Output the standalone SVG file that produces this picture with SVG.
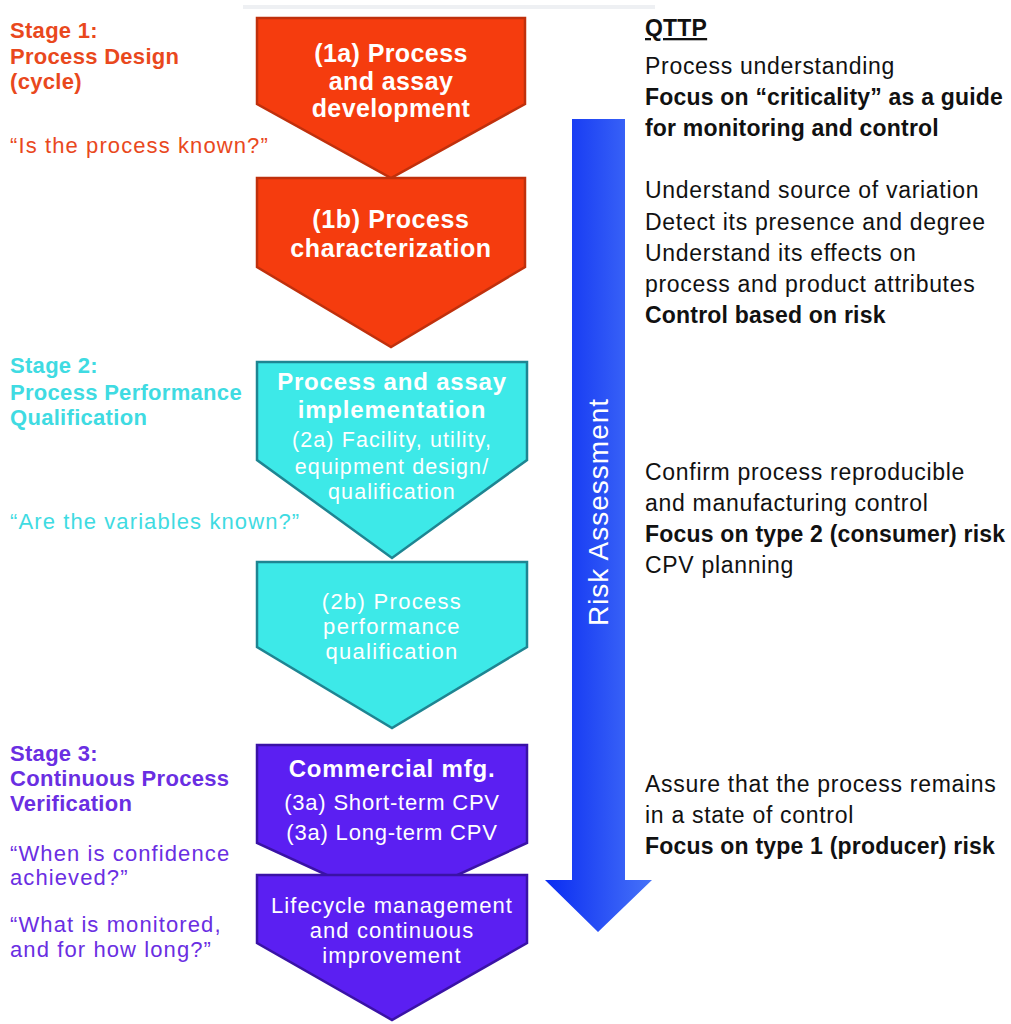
<svg xmlns="http://www.w3.org/2000/svg" width="1011" height="1024" viewBox="0 0 1011 1024">
<defs>
<linearGradient id="blueGrad" x1="0" y1="0" x2="1" y2="0">
<stop offset="0" stop-color="#0a2cf2"/>
<stop offset="1" stop-color="#4672f8"/>
</linearGradient>
<style>
.f{font-family:"Liberation Sans",Arial,sans-serif}
.b{font-weight:bold}
.red{fill:#f53c0e;stroke:#c0300c;stroke-width:2.5}
.cyan{fill:#3de9e8;stroke:#1e8592;stroke-width:2.5}
.pur{fill:#5b1ff2;stroke:#3a12a6;stroke-width:2.5}
.wt{fill:#ffffff;text-anchor:middle}
.s1{fill:#e9481d}
.s2{fill:#3fdbe2}
.s3{fill:#6a2ee2}
.rt{fill:#111111;font-size:23px;letter-spacing:0.7px}
.rb{fill:#111111;font-size:23px;font-weight:bold;letter-spacing:0.2px}
.lb{font-size:22px;font-weight:bold;letter-spacing:0.3px}
.lq{font-size:22px;letter-spacing:1.1px}
</style>
</defs>
<rect x="0" y="0" width="1011" height="1024" fill="#ffffff"/>
<rect x="243" y="5" width="412" height="4" fill="#eef0f3"/>

<g id="connectors">
<path d="M572,119 H625 V880 H652 L598,932 L545,880 H572 Z" fill="url(#blueGrad)"/>
<text class="f" x="0" y="0" font-size="28" letter-spacing="1" fill="#ffffff" text-anchor="middle" transform="translate(608,512) rotate(-90)">Risk Assessment</text>
</g>

<g id="node-1a">
<path class="red" d="M257,18 H525 V104 L391,178 L257,104 Z"/>
<text class="f b wt" font-size="25" letter-spacing="0.4"><tspan x="391" y="62">(1a) Process</tspan><tspan x="391" y="90">and assay</tspan><tspan x="391" y="117">development</tspan></text>
</g>
<g id="node-1b">
<path class="red" d="M257,178 H525 V267 L391,347 L257,267 Z"/>
<text class="f b wt" font-size="25" letter-spacing="0.6"><tspan x="391" y="228">(1b) Process</tspan><tspan x="391" y="257">characterization</tspan></text>
</g>
<g id="node-2a">
<path class="cyan" d="M257,362 H527 V460 L392,558 L257,460 Z"/>
<text class="f b wt" font-size="24" letter-spacing="0.8"><tspan x="392" y="390">Process and assay</tspan><tspan x="392" y="418">implementation</tspan></text>
<text class="f wt" font-size="21.5" letter-spacing="1.1"><tspan x="392" y="447">(2a) Facility, utility,</tspan><tspan x="392" y="474">equipment design/</tspan><tspan x="392" y="499">qualification</tspan></text>
</g>
<g id="node-2b">
<path class="cyan" d="M257,562 H527 V647 L392,728 L257,647 Z"/>
<text class="f wt" font-size="22" letter-spacing="1.3"><tspan x="392" y="609">(2b) Process</tspan><tspan x="392" y="634">performance</tspan><tspan x="392" y="659">qualification</tspan></text>
</g>
<g id="node-3a">
<path class="pur" d="M257,745 H527 V843 L392,905 L257,843 Z"/>
<text class="f b wt" font-size="24" letter-spacing="0.8"><tspan x="392" y="777">Commercial mfg.</tspan></text>
<text class="f wt" font-size="22" letter-spacing="0.8"><tspan x="392" y="810">(3a) Short-term CPV</tspan><tspan x="392" y="840">(3a) Long-term CPV</tspan></text>
</g>
<g id="node-3b">
<path class="pur" d="M257,875 H527 V943 L392,1020 L257,943 Z"/>
<text class="f wt" font-size="22" letter-spacing="1.1"><tspan x="392" y="913">Lifecycle management</tspan><tspan x="392" y="938">and continuous</tspan><tspan x="392" y="963">improvement</tspan></text>
</g>

<g id="stage-labels">
<text class="f lb s1"><tspan x="10" y="38">Stage 1:</tspan><tspan x="10" y="64">Process Design</tspan><tspan x="10" y="89">(cycle)</tspan></text>
<text class="f lq s1" x="10" y="153">“Is the process known?”</text>
<text class="f lb s2"><tspan x="10" y="373">Stage 2:</tspan><tspan x="10" y="400">Process Performance</tspan><tspan x="10" y="425">Qualification</tspan></text>
<text class="f lq s2" x="10" y="529">“Are the variables known?”</text>
<text class="f lb s3"><tspan x="10" y="761">Stage 3:</tspan><tspan x="10" y="786">Continuous Process</tspan><tspan x="10" y="811">Verification</tspan></text>
<text class="f lq s3"><tspan x="10" y="861">“When is confidence</tspan><tspan x="10" y="885">achieved?”</tspan></text>
<text class="f lq s3"><tspan x="10" y="932">“What is monitored,</tspan><tspan x="10" y="957">and for how long?”</tspan></text>
</g>

<g id="qttp">
<text class="f rb" x="645" y="36" text-decoration="underline">QTTP</text>
<text class="f rt" x="645" y="74">Process understanding</text>
<text class="f rb"><tspan x="645" y="105">Focus on “criticality” as a guide</tspan><tspan x="645" y="136">for monitoring and control</tspan></text>
<text class="f rt"><tspan x="645" y="198">Understand source of variation</tspan><tspan x="645" y="230">Detect its presence and degree</tspan><tspan x="645" y="261">Understand its effects on</tspan><tspan x="645" y="292">process and product attributes</tspan></text>
<text class="f rb" x="645" y="323">Control based on risk</text>
<text class="f rt"><tspan x="645" y="480">Confirm process reproducible</tspan><tspan x="645" y="511">and manufacturing control</tspan></text>
<text class="f rb" x="645" y="542">Focus on type 2 (consumer) risk</text>
<text class="f rt" x="645" y="573">CPV planning</text>
<text class="f rt"><tspan x="645" y="792">Assure that the process remains</tspan><tspan x="645" y="823">in a state of control</tspan></text>
<text class="f rb" x="645" y="854">Focus on type 1 (producer) risk</text>
</g>
</svg>
